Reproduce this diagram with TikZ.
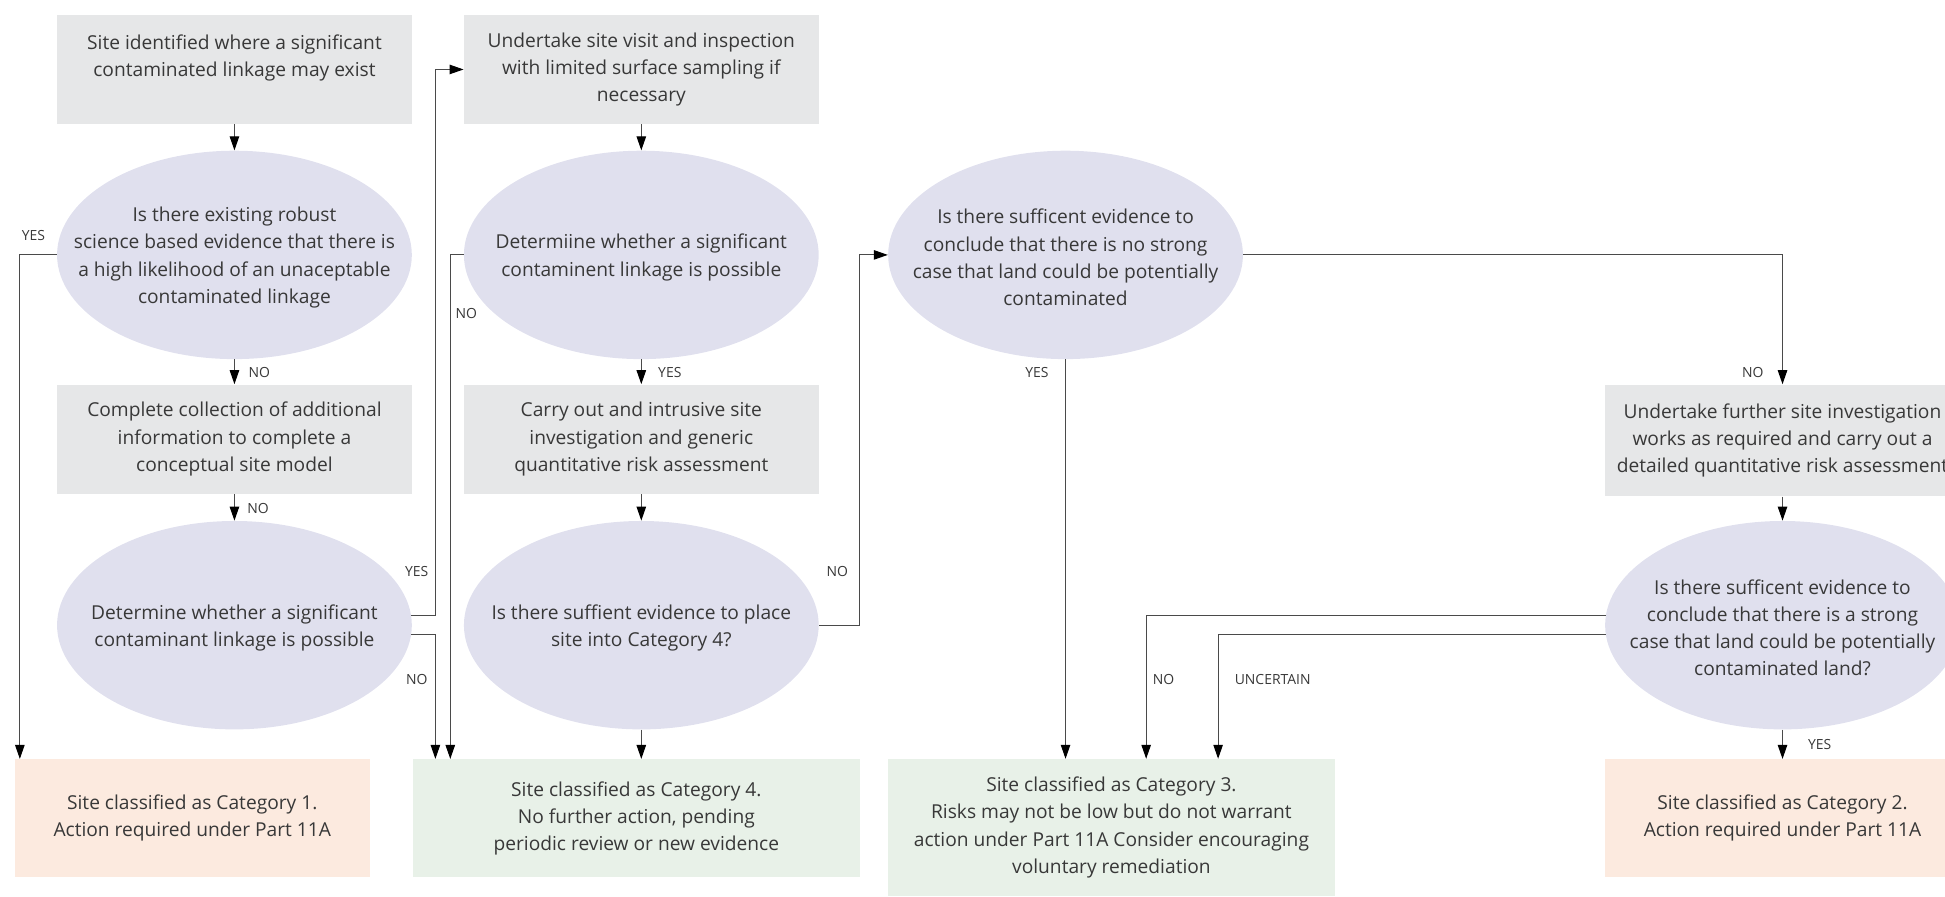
\documentclass[tikz,border=0pt]{standalone}
\usepackage{fontspec}
\setmainfont{Open Sans}
\usetikzlibrary{arrows.meta,positioning,calc,shapes.geometric}
\definecolor{cgrey}{HTML}{E6E7E8}
\definecolor{clav}{HTML}{E0E0EE}
\definecolor{cpeach}{HTML}{FCEADF}
\definecolor{cmint}{HTML}{E8F1E8}
\definecolor{ctext}{HTML}{383838}
\definecolor{cline}{HTML}{4A4A4A}
\tikzset{
  box/.style={fill=cgrey,minimum width=7.15cm,minimum height=2.2cm,align=center,font=\fontsize{11}{15.6}\selectfont,text=ctext,inner sep=2pt},
  qn/.style={ellipse,fill=clav,minimum width=7.15cm,minimum height=4.2cm,inner sep=0pt},
  qt/.style={align=center,font=\fontsize{11}{15.6}\selectfont,text=ctext,inner sep=0pt,yshift=-1.5pt},
  bad/.style={box,fill=cpeach,minimum height=2.375cm},
  good/.style={box,fill=cmint,minimum width=9cm,minimum height=2.375cm},
  arr/.style={-{Triangle[length=8pt,width=5.4pt,color=black]},line width=0.6pt,draw=cline},
  lbl/.style={font=\fontsize{8}{9}\selectfont,text=ctext,inner sep=0pt},
}
\begin{document}
\begin{tikzpicture}
  \useasboundingbox (0,0) rectangle (39.2,-18.075);
  % left column
  \node[box] (a) at (4.725,-1.4) {Site identified where a significant\\contaminated linkage may exist\\\mbox{}};
  \node[qn] (e1) at (4.725,-5.1375) {};
  \node[qt] (e1t) at (e1) {Is there existing robust\\science based evidence that there is\\a high likelihood of an unaceptable\\contaminated linkage};
  \node[box] (b) at (4.725,-8.85) {Complete collection of additional\\information to complete a\\conceptual site model};
  \node[qn] (e2) at (4.725,-12.6) {};
  \node[qt] (e2t) at (e2) {Determine whether a significant\\contaminant linkage is possible};
  \node[bad] (c1) at (3.875,-16.49) {Site classified as Category 1.\\Action required under Part 11A};
  % second column
  \node[box] (c) at (12.925,-1.4) {Undertake site visit and inspection\\with limited surface sampling if\\necessary};
  \node[qn] (e3) at (12.925,-5.1375) {};
  \node[qt] (e3t) at (e3) {Determiine whether a significant\\contaminent linkage is possible};
  \node[box] (d) at (12.925,-8.85) {Carry out and intrusive site\\investigation and generic\\quantitative risk assessment};
  \node[qn] (e4) at (12.925,-12.6) {};
  \node[qt] (e4t) at (e4) {Is there suffient evidence to place\\site into Category 4?};
  \node[good] (c4) at (12.825,-16.49) {Site classified as Category 4.\\No further action, pending\\periodic review or new evidence};
  % third column
  \node[qn] (e5) at (21.475,-5.1375) {};
  \node[qt] (e5t) at (e5) {Is there sufficent evidence to\\conclude that there is no strong\\case that land could be potentially\\contaminated};
  \node[good,minimum height=2.75cm] (c3) at (22.4,-16.675) {Site classified as Category 3.\\Risks may not be low but do not warrant\\action under Part 11A Consider encouraging\\voluntary remediation};
  % right column
  \node[box,minimum height=2.25cm] (f) at (35.925,-8.875) {Undertake further site investigation\\works as required and carry out a\\detailed quantitative risk assessment};
  \node[qn] (e6) at (35.925,-12.6) {};
  \node[qt] (e6t) at (e6) {Is there sufficent evidence to\\conclude that there is a strong\\case that land could be potentially\\contaminated land?};
  \node[bad] (c2) at (35.925,-16.49) {Site classified as Category 2.\\Action required under Part 11A};
  % lanes
  \coordinate (l1) at (0.4,0); \coordinate (l2) at (8.775,0); \coordinate (l3) at (9.075,0);
  \coordinate (l4) at (17.325,0); \coordinate (l5) at (23.1,0); \coordinate (l6) at (24.55,0);
  % connectors
  \draw[arr] (a) -- (e1); \draw[arr] (e1) -- (b); \draw[arr] (b) -- (e2);
  \draw[arr] (e1.west) -| (l1 |- c1.north);
  \draw[arr] (e2.3) -| (l2 |- c.west) -- (c.west);
  \draw[arr] (e2.-3) -| (l2 |- c4.north);
  \draw[arr] (c) -- (e3); \draw[arr] (e3) -- (d); \draw[arr] (d) -- (e4);
  \draw[arr] (e3.west) -| (l3 |- c4.north);
  \draw[arr] (e4.south) -- (e4.south |- c4.north);
  \draw[arr] (e4.east) -| (l4 |- e5.west) -- (e5.west);
  \draw[arr] (e5.south) -- (e5.south |- c3.north);
  \draw[arr] (e5.east) -| (f.north);
  \draw[arr] (f) -- (e6); \draw[arr] (e6) -- (c2);
  \draw[arr] (e6.177.5) -| (l5 |- c3.north);
  \draw[arr] (e6.183) -| (l6 |- c3.north);
  % labels
  \node[lbl] (y1) at (0.675,-4.75) {YES};
  \node[lbl] (n1) at (5.225,-7.5) {NO};
  \node[lbl] (n2) at (5.2,-10.25) {NO};
  \node[lbl] (y2) at (8.4,-11.525) {YES};
  \node[lbl] (n3) at (8.4,-13.7) {NO};
  \node[lbl] (n4) at (9.4,-6.325) {NO};
  \node[lbl] (y3) at (13.5,-7.5) {YES};
  \node[lbl] (n5) at (16.875,-11.525) {NO};
  \node[lbl] (y4) at (20.9,-7.5) {YES};
  \node[lbl] (n6) at (35.325,-7.5) {NO};
  \node[lbl] (y5) at (36.675,-15.0) {YES};
  \node[lbl] (n7) at (23.45,-13.7) {NO};
  \node[lbl] (u1) at (25.65,-13.7) {UNCERTAIN};
\end{tikzpicture}
\end{document}
